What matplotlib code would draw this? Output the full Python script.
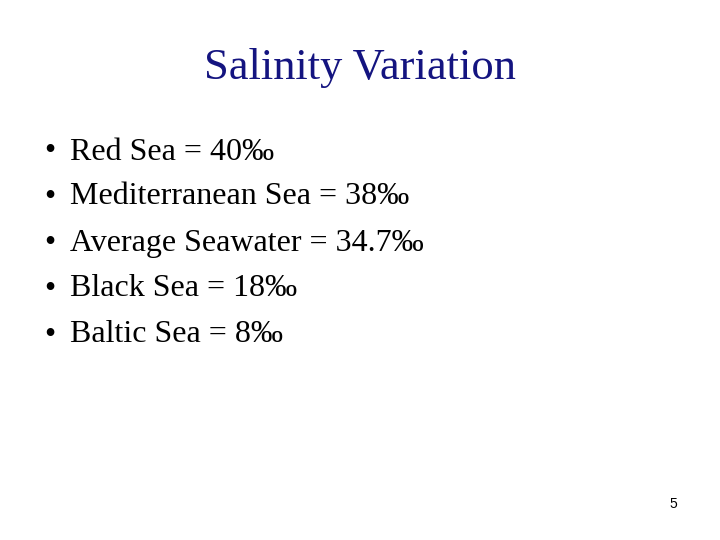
import matplotlib
matplotlib.use("Agg")
import matplotlib.pyplot as plt

title = "Salinity Variation"
seas = ["Red Sea", "Mediterranean Sea", "Average Seawater", "Black Sea", "Baltic Sea"]
salinity = ["40", "38", "34.7", "18", "8"]
page = "5"

fig = plt.figure(figsize=(7.2, 5.4), dpi=100)
fig.patch.set_facecolor("white")
W, H = 720, 540
fig.text(360 / W, 1 - 68 / H, title, ha="center", va="center",
         family="Liberation Serif", fontsize=32, color="#141480")
ys = [152, 197, 243, 289, 335]
for y, s, v in zip(ys, seas, salinity):
    fig.text(50 / W, 1 - y / H, "•", ha="center", va="center",
             family="Liberation Serif", fontsize=23, color="black")
    fig.text(70 / W, 1 - y / H, f"{s} = {v}‰", ha="left", va="center",
             family="Liberation Serif", fontsize=23, color="black")
fig.text(673 / W, 1 - 504 / H, page, ha="center", va="center",
         family="Liberation Sans", fontsize=10, color="black")
fig.savefig("out.png", dpi=100)
